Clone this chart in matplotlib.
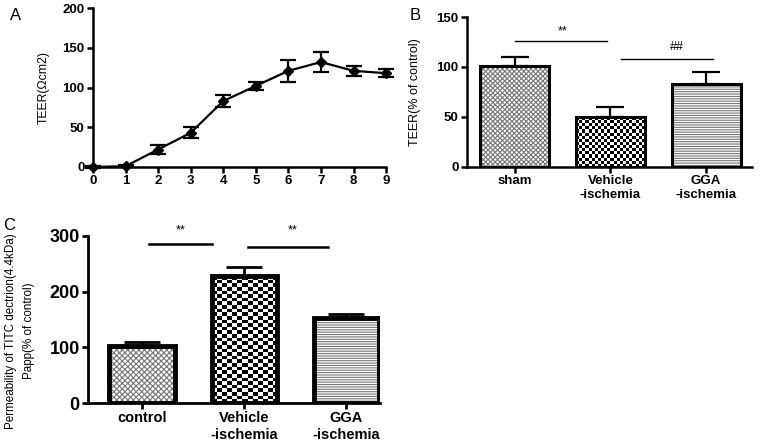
import numpy as np
import matplotlib
matplotlib.use('Agg')
import matplotlib.pyplot as plt

plt.rcParams['font.family'] = ['Liberation Sans', 'DejaVu Sans']
plt.rcParams['hatch.linewidth'] = 0.8

# panel A data
days = [0, 1, 2, 3, 4, 5, 6, 7, 8, 9]
teer = [0, 1, 22, 43, 83, 102, 121, 132, 121, 118]
teer_err = [1, 1, 6, 7, 8, 5, 14, 13, 6, 5]

# panel B data
groups_b = ['sham', 'Vehicle\n-ischemia', 'GGA\n-ischemia']
teer_pct = [101, 50, 83]
teer_pct_err = [9, 10, 12]

# panel C data
groups_c = ['control', 'Vehicle\n-ischemia', 'GGA\n-ischemia']
papp = [102, 228, 152]
papp_err = [7, 17, 8]

fig = plt.figure(figsize=(7.66, 4.44), dpi=100)

def style(ax, lw=1.8):
    for s in ['top', 'right']:
        ax.spines[s].set_visible(False)
    for s in ['left', 'bottom']:
        ax.spines[s].set_linewidth(lw)
    ax.tick_params(width=lw, length=4, labelsize=9.5, pad=2)
    for lab in ax.get_xticklabels() + ax.get_yticklabels():
        lab.set_fontweight('bold')

def hatched_bar(ax, x, h, w, hatch, hc, lw):
    # hatch drawn with its own colour, outline drawn on top
    ax.bar(x, h, width=w, color='white', edgecolor=hc, linewidth=0, hatch=hatch, zorder=2)
    ax.bar(x, h, width=w, fill=False, edgecolor='black', linewidth=lw, zorder=3)

def checker_bar(ax, x, h, w, cell_px, lw):
    # checkerboard texture clipped to the bar
    bars = ax.bar(x, h, width=w, color='white', linewidth=0, zorder=2)
    fig.canvas.draw()
    bb = bars[0].get_window_extent()
    nx = max(int(bb.width / cell_px[0]), 1)
    ny = max(int(bb.height / cell_px[1]), 1)
    yy, xx = np.indices((ny, nx))
    img = ((xx + yy) % 2).astype(float)
    im = ax.imshow(img, cmap='gray', extent=[x - w / 2, x + w / 2, 0, h],
                   interpolation='nearest', aspect='auto', zorder=2.5, vmin=0, vmax=1)
    im.set_clip_path(bars[0])
    ax.bar(x, h, width=w, fill=False, edgecolor='black', linewidth=lw, zorder=3)

# ---- A
axA = fig.add_axes([0.1214, 0.6239, 0.3826, 0.358])
axA.errorbar(days, teer, yerr=teer_err, color='black', lw=1.6, marker='D',
             ms=5, capsize=6, capthick=1.6, elinewidth=1.6, clip_on=False, zorder=3)
axA.set_xlim(0, 9)
axA.set_ylim(0, 200)
axA.set_xticks(days)
axA.set_yticks([0, 50, 100, 150, 200])
axA.set_ylabel('TEER(Ωcm2)', fontsize=8.8, labelpad=9)
style(axA)

# ---- B
axB = fig.add_axes([0.6097, 0.6239, 0.372, 0.3378])
xb = np.arange(len(groups_b))
axB.set_xlim(-0.5, 2.48)
axB.set_ylim(0, 150)
hatched_bar(axB, xb[0], teer_pct[0], 0.72, 'xxxxxxx', '#777777', 2.2)
checker_bar(axB, xb[1], teer_pct[1], 0.72, (3, 3), 2.2)
hatched_bar(axB, xb[2], teer_pct[2], 0.72, '-------', '#777777', 2.2)
for i in range(3):
    axB.errorbar(xb[i], teer_pct[i], yerr=[[0], [teer_pct_err[i]]], color='black',
                 capsize=10, capthick=1.6, elinewidth=1.6, zorder=1)
axB.set_yticks([0, 50, 100, 150])
axB.set_xticks(xb)
axB.set_xticklabels(groups_b)
axB.set_ylabel('TEER(% of control)', fontsize=9, labelpad=11)
style(axB)
axB.plot([0, 0.96], [126, 126], color='black', lw=1)
axB.text(0.5, 133, '**', ha='center', fontsize=9)
axB.plot([1.11, 2.07], [108, 108], color='black', lw=1)
axB.text(1.7, 117, '##', ha='center', fontsize=9)

# ---- C
axC = fig.add_axes([0.1149, 0.0923, 0.3811, 0.3762])
xc = np.arange(len(groups_c))
axC.set_xlim(-0.53, 2.33)
axC.set_ylim(0, 300)
hatched_bar(axC, xc[0], papp[0], 0.64, 'xxxxxx', '#777777', 3.5)
checker_bar(axC, xc[1], papp[1], 0.64, (5, 3.6), 3.5)
hatched_bar(axC, xc[2], papp[2], 0.64, '-------', '#777777', 3.5)
for i in range(3):
    axC.errorbar(xc[i], papp[i], yerr=[[0], [papp_err[i]]], color='black',
                 capsize=13, capthick=2, elinewidth=2, zorder=1)
axC.set_yticks([0, 100, 200, 300])
axC.set_xticks(xc)
axC.set_xticklabels(groups_c)
axC.set_ylabel('Permeability of TITC dectrion(4.4kDa)\nPapp(% of control)',
               fontsize=8.4, labelpad=14, linespacing=1.7)
axC.yaxis.set_label_coords(-0.182, 0.43)
style(axC, lw=2)
axC.tick_params(axis='y', labelsize=13)
axC.tick_params(axis='x', labelsize=10.5)
axC.plot([0.07, 0.68], [286, 286], color='black', lw=1.8)
axC.text(0.38, 305, '**', ha='center', fontsize=9)
axC.plot([1.04, 1.82], [280, 280], color='black', lw=1.8)
axC.text(1.47, 305, '**', ha='center', fontsize=9)

fig.text(0.013, 0.955, 'A', fontsize=12)
fig.text(0.535, 0.955, 'B', fontsize=12)
fig.text(0.004, 0.483, 'C', fontsize=12)

fig.savefig('out.png', dpi=100)
